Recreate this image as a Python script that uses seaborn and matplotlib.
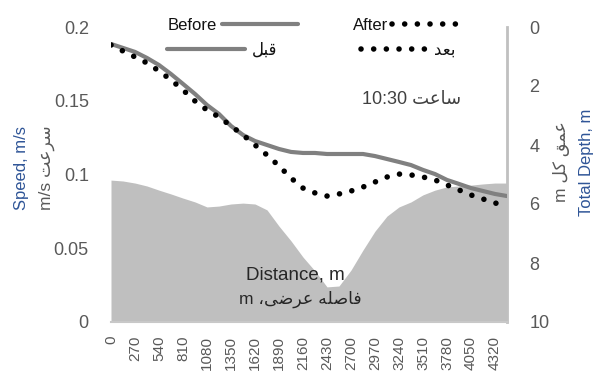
import matplotlib
matplotlib.use("Agg")
import matplotlib.pyplot as plt
import numpy as np
import pandas as pd
import seaborn as sns

# ---------------- data ----------------
distance = [0, 135, 270, 405, 540, 675, 810, 945, 1080, 1215, 1350, 1485, 1620, 1755,
            1890, 2025, 2160, 2295, 2430, 2565, 2700, 2835, 2970, 3105, 3240, 3375,
            3510, 3645, 3780, 3915, 4050, 4185, 4320, 4455]
speed_before = [0.1885, 0.1858, 0.1831, 0.1790, 0.1742, 0.1681, 0.1614, 0.1546, 0.1471,
                0.1410, 0.1329, 0.1268, 0.1227, 0.1200, 0.1173, 0.1153, 0.1146, 0.1146,
                0.1139, 0.1139, 0.1139, 0.1139, 0.1125, 0.1105, 0.1085, 0.1064, 0.1031,
                0.1003, 0.0963, 0.0936, 0.0908, 0.0888, 0.0868, 0.0854]
speed_after = [0.1878, 0.1837, 0.1797, 0.1756, 0.1702, 0.1641, 0.1573, 0.1498, 0.1437,
               0.1390, 0.1329, 0.1268, 0.1200, 0.1132, 0.1058, 0.0976, 0.0908, 0.0875,
               0.0854, 0.0868, 0.0888, 0.0915, 0.0949, 0.0983, 0.1003, 0.0997, 0.0983,
               0.0963, 0.0929, 0.0895, 0.0861, 0.0834, 0.0807, 0.0786]
total_depth = [5.19, 5.22, 5.29, 5.39, 5.53, 5.66, 5.80, 5.93, 6.10, 6.07, 6.00, 5.97,
               6.00, 6.20, 6.75, 7.25, 7.80, 8.27, 8.81, 8.78, 8.24, 7.56, 6.92, 6.41,
               6.10, 5.93, 5.69, 5.53, 5.42, 5.39, 5.36, 5.32, 5.29, 5.29]

xtick_values = [0, 270, 540, 810, 1080, 1350, 1620, 1890, 2160, 2430, 2700, 2970,
                3240, 3510, 3780, 4050, 4320]
xtick_labels = [str(v) for v in xtick_values]
left_ticks = [0, 0.05, 0.1, 0.15, 0.2]
left_tick_labels = ["0", "0.05", "0.1", "0.15", "0.2"]
right_ticks = [0, 2, 4, 6, 8, 10]
right_tick_labels = ["0", "2", "4", "6", "8", "10"]

# Arabic/Persian texts written in visual (shaped, left-to-right) order
AR_BEFORE = "\uFEDE\uFE92\uFED7"                      # قبل
AR_AFTER = "\uFEAA\uFECC\uFE91"                       # بعد
AR_HOUR = "\uFE96\uFECB\uFE8E\uFEB3"                  # ساعت
AR_SPEED = "\uFE96\uFECB\uFEAE\uFEB3"                 # سرعت
AR_DEPTH = "\uFEDE\uFB90 \uFED6\uFEE4\uFECB"           # عمق کل
AR_DIST = "\u060C\uFEF0\uFEBF\uFEAE\uFECB \uFEEA\uFEE0\uFEBB\uFE8E\uFED3"  # فاصله عرضی،

df = pd.DataFrame({"distance": distance, "before": speed_before,
                   "after": speed_after, "depth": total_depth})

# ---------------- style ----------------
sns.set_style("white")
plt.rcParams["font.family"] = ["Liberation Sans", "DejaVu Sans"]

W, H = 600, 372
fig = plt.figure(figsize=(W / 100, H / 100), dpi=100)
x0, x1, ytop, ybot = 111, 507, 27, 322
ax = fig.add_axes([x0 / W, 1 - ybot / H, (x1 - x0) / W, (ybot - ytop) / H])
ax2 = ax.twinx()

# depth area on secondary (inverted) axis
ax2.fill_between(df["distance"], df["depth"], 10, color="#bfbfbf", lw=0)
ax2.set_ylim(10, 0)

ax.set_zorder(ax2.get_zorder() + 1)
ax.patch.set_visible(False)

sns.lineplot(data=df, x="distance", y="before", ax=ax, color="#808080", lw=3.0,
             estimator=None, sort=False, legend=False, solid_capstyle="round")
sns.lineplot(data=df, x="distance", y="after", ax=ax, color="black", lw=4.0,
             estimator=None, sort=False, legend=False,
             linestyle=(0, (0.01, 2.27)), dash_capstyle="round")

ax.set_xlim(0, 4455)
ax.set_ylim(0, 0.2)
ax.set_xticks(xtick_values)
ax.set_xticklabels(xtick_labels, rotation=90)
ax.set_yticks(left_ticks)
ax.set_yticklabels(left_tick_labels)
ax2.set_yticks(right_ticks)
ax2.set_yticklabels(right_tick_labels)
ax.set_xlabel("")
ax.set_ylabel("")

for s in ["left", "top", "right"]:
    ax.spines[s].set_visible(False)
ax.spines["bottom"].set_color("#c8c8c8")
ax.spines["bottom"].set_linewidth(1.5)
for s in ["left", "top", "bottom"]:
    ax2.spines[s].set_visible(False)
ax2.spines["right"].set_color("#c0c0c0")
ax2.spines["right"].set_linewidth(2)

ax.tick_params(axis="y", length=0, pad=16, labelsize=13, labelcolor="#595959")
ax.tick_params(axis="x", length=5, width=1.2, color="#c8c8c8", direction="out",
               pad=5, labelsize=11, labelcolor="#595959")
ax2.tick_params(axis="y", length=0, pad=16, labelsize=13, labelcolor="#595959")

# ---------------- axis titles ----------------
def fx(px):
    return px / W

def fy(py):
    return 1 - py / H

fig.text(fx(22), fy(168), "Speed, m/s", rotation=90, ha="center", va="center",
         fontsize=12, color="#2f5597")
fig.text(fx(47), fy(168), "m/s " + AR_SPEED, rotation=90, ha="center", va="center",
         fontsize=12.5, color="#595959")
fig.text(fx(562), fy(162), "m " + AR_DEPTH, rotation=90, ha="center", va="center",
         fontsize=12.5, color="#595959")
fig.text(fx(587), fy(162), "Total Depth, m", rotation=90, ha="center", va="center",
         fontsize=12, color="#2f5597")

fig.text(fx(362), fy(99), "10:30 " + AR_HOUR, ha="left", va="center",
         fontsize=13, color="#404040")
fig.text(fx(295), fy(275), "Distance, m", ha="center", va="center",
         fontsize=13.5, color="#262626")
fig.text(fx(300), fy(299), "m " + AR_DIST, ha="center", va="center",
         fontsize=12.5, color="#262626")

# ---------------- legend ----------------
h_before, h_after = ax.lines[0], ax.lines[1]
FS = 12

def add_leg(handle, label, xpx, ypx, markerfirst, hl, pad):
    fig.legend([handle], [label], loc="center left",
               bbox_to_anchor=(fx(xpx), fy(ypx)), bbox_transform=fig.transFigure,
               frameon=False, markerfirst=markerfirst, handlelength=hl,
               handletextpad=pad, borderpad=0, borderaxespad=0,
               prop={"size": FS, "family": ["Liberation Sans", "DejaVu Sans"]},
               labelcolor="#111111")

add_leg(h_before, "Before", 168, 25, False, 4.55, 0.3)
add_leg(h_after, "After", 353, 25, False, 3.85, 0.2)
add_leg(h_before, AR_BEFORE, 167, 50, True, 4.67, 0.4)
add_leg(h_after, AR_AFTER, 361, 50, True, 3.9, 0.5)

fig.savefig("out.png", dpi=100)
